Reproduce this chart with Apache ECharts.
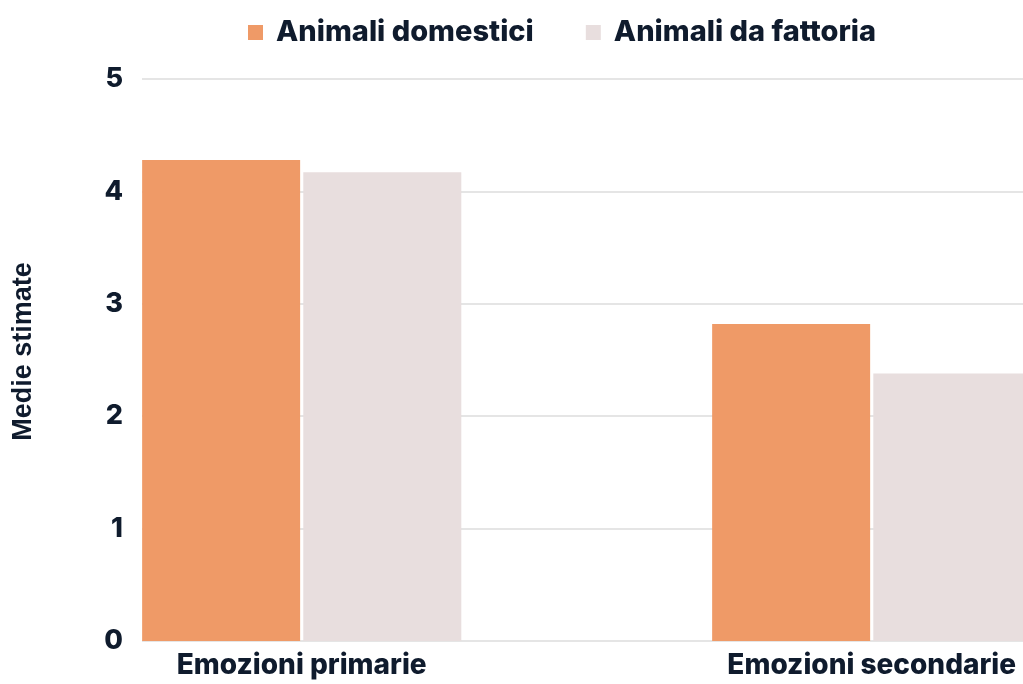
<!DOCTYPE html>
<html>
<head>
<meta charset="utf-8">
<style>
  html, body { margin: 0; padding: 0; background: #ffffff; }
  #chart { width: 1023px; height: 684px; }
</style>
<script src="https://cdn.jsdelivr.net/npm/echarts@6/dist/echarts.min.js"></script>
</head>
<body>
<div id="chart"></div>
<script>
// Mean estimates of emotions attributed to pets vs. farm animals
const categories = ['Emozioni primarie', 'Emozioni secondarie'];
const seriesNames = ['Animali domestici', 'Animali da fattoria'];
const domestici = [4.28, 2.82];
const fattoria = [4.17, 2.38];
const yTicks = [0, 1, 2, 3, 4, 5];

const textColor = '#0f1b2d';
const labelFont = 'Inter, "Open Sans", sans-serif';

// bars are placed on a numeric x scale so each group sits on its category index
const toPoints = vals => vals.map((v, i) => [i, v]);

const chart = echarts.init(document.getElementById('chart'));
chart.setOption({
  animation: false,
  legend: {
    left: 243,
    top: 13,
    itemWidth: 15,
    itemHeight: 15,
    itemGap: 52,
    icon: 'rect',
    textStyle: { color: textColor, fontSize: 29, fontWeight: 800, fontFamily: labelFont, padding: [0, 0, 0, 8] },
    data: seriesNames
  },
  grid: { left: 142, right: 0, top: 79, bottom: 43 },
  xAxis: {
    type: 'value',
    min: -0.2802,
    max: 1.2654,
    axisLine: { show: false },
    axisTick: { show: false },
    splitLine: { show: false },
    axisLabel: {
      customValues: categories.map((c, i) => i),
      formatter: v => categories[Math.round(v)],
      color: textColor,
      fontSize: 28,
      fontWeight: 800,
      fontFamily: labelFont,
      margin: 11
    }
  },
  yAxis: {
    type: 'value',
    min: yTicks[0],
    max: yTicks[yTicks.length - 1],
    interval: 1,
    name: 'Medie stimate',
    nameLocation: 'middle',
    nameGap: 105,
    nameRotate: 90,
    nameTextStyle: {
      color: textColor, fontSize: 27, fontWeight: 'bold',
      fontFamily: '"Liberation Sans", Arial, sans-serif',
      padding: [0, 0, 0, 17]
    },
    axisLine: { show: false },
    axisTick: { show: false },
    splitLine: { lineStyle: { color: '#dcdcdc', width: 1.5 } },
    axisLabel: {
      color: textColor,
      fontSize: 27,
      fontWeight: 800,
      fontFamily: labelFont,
      margin: 19
    }
  },
  series: [
    {
      name: seriesNames[0],
      type: 'bar',
      data: toPoints(domestici),
      barWidth: 158,
      barGap: '2%',
      itemStyle: { color: '#ef9a67' }
    },
    {
      name: seriesNames[1],
      type: 'bar',
      data: toPoints(fattoria),
      barWidth: 158,
      barGap: '2%',
      itemStyle: { color: '#e8dede' }
    }
  ]
});
</script>
</body>
</html>
